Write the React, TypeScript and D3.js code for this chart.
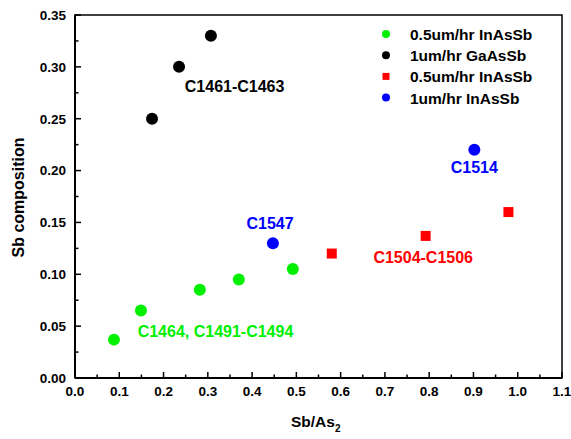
import React from "react";
import * as d3 from "d3";

const greenX = [0.088, 0.149, 0.282, 0.37, 0.492];
const greenY = [0.037, 0.065, 0.085, 0.095, 0.105];
const blackX = [0.174, 0.235, 0.307];
const blackY = [0.25, 0.3, 0.33];
const redX = [0.58, 0.792, 0.979];
const redY = [0.12, 0.137, 0.16];
const blueX = [0.447, 0.902];
const blueY = [0.13, 0.22];

const legendLabels = ["0.5um/hr InAsSb", "1um/hr GaAsSb", "0.5um/hr InAsSb", "1um/hr InAsSb"];
const legendColors = ["#00f000", "#000000", "#ff0000", "#0000ff"];
const legendShapes = ["circle", "circle", "square", "circle"];

const xTicks = [0, 0.1, 0.2, 0.3, 0.4, 0.5, 0.6, 0.7, 0.8, 0.9, 1.0, 1.1];
const yTicks = [0, 0.05, 0.1, 0.15, 0.2, 0.25, 0.3, 0.35];

const annotations = [
  { text: "C1461-C1463", x: 0.248, y: 0.276, color: "#000000", anchor: "start" },
  { text: "C1514", x: 0.902, y: 0.198, color: "#0000ff", anchor: "middle" },
  { text: "C1547", x: 0.4405, y: 0.1434, color: "#0000ff", anchor: "middle" },
  { text: "C1464, C1491-C1494", x: 0.1415, y: 0.0398, color: "#00f000", anchor: "start" },
  { text: "C1504-C1506", x: 0.674, y: 0.111, color: "#ff0000", anchor: "start" },
];

export default function App() {
  const W = 571, H = 439;
  const L = 75, R = 562, T = 15, B = 378;
  const x = d3.scaleLinear().domain([0, 1.1]).range([L, R]);
  const y = d3.scaleLinear().domain([0, 0.35]).range([B, T]);
  const font = "'Liberation Sans', Arial, sans-serif";

  const xMinor = d3.range(0.05, 1.1, 0.1);
  const yMinor = d3.range(0.025, 0.35, 0.05);

  const zip = (xs: number[], ys: number[]) => xs.map((v, i) => [v, ys[i]]);

  return (
    <svg width={W} height={H} style={{ position: "absolute", left: 0, top: 0, background: "#fff" }} fontFamily={font}>
      <rect x={0} y={0} width={W} height={H} fill="#fff" />
      {/* frame */}
      <rect x={L} y={T} width={R - L} height={B - T} fill="none" stroke="#000" strokeWidth={1.5} />
      <line x1={L} x2={R} y1={B} y2={B} stroke="#000" strokeWidth={2} />
      <line x1={L} x2={L} y1={T} y2={B} stroke="#000" strokeWidth={2} />
      {/* x ticks */}
      {xTicks.map((t) => (
        <g key={"xt" + t}>
          <line x1={x(t)} x2={x(t)} y1={B} y2={B - 6} stroke="#000" strokeWidth={1.5} />
          <text x={x(t)} y={396} textAnchor="middle" fontSize={13.5} fontWeight="bold">{t.toFixed(1)}</text>
        </g>
      ))}
      {xMinor.map((t) => (
        <line key={"xm" + t} x1={x(t)} x2={x(t)} y1={B} y2={B - 3.5} stroke="#000" strokeWidth={1.5} />
      ))}
      {/* y ticks */}
      {yTicks.map((t) => (
        <g key={"yt" + t}>
          <line x1={L} x2={L + 6} y1={y(t)} y2={y(t)} stroke="#000" strokeWidth={1.5} />
          <text x={66} y={y(t) + 4.8} textAnchor="end" fontSize={13.5} fontWeight="bold">{t.toFixed(2)}</text>
        </g>
      ))}
      {yMinor.map((t) => (
        <line key={"ym" + t} x1={L} x2={L + 3.5} y1={y(t)} y2={y(t)} stroke="#000" strokeWidth={1.5} />
      ))}
      {/* axis titles */}
      <text transform={`translate(24,${(T + B) / 2 + 1}) rotate(-90)`} textAnchor="middle" fontSize={16} fontWeight="bold">Sb composition</text>
      <text x={291} y={427} fontSize={15.5} fontWeight="bold">
        Sb/As<tspan fontSize={10} dy={5}>2</tspan>
      </text>
      {/* data */}
      {zip(greenX, greenY).map(([a, b], i) => (
        <circle key={"g" + i} cx={x(a)} cy={y(b)} r={6} fill="#00f000" />
      ))}
      {zip(blackX, blackY).map(([a, b], i) => (
        <circle key={"k" + i} cx={x(a)} cy={y(b)} r={6} fill="#000" />
      ))}
      {zip(redX, redY).map(([a, b], i) => (
        <rect key={"r" + i} x={x(a) - 5} y={y(b) - 5} width={10} height={10} fill="#ff0000" />
      ))}
      {zip(blueX, blueY).map(([a, b], i) => (
        <circle key={"b" + i} cx={x(a)} cy={y(b)} r={6} fill="#0000ff" />
      ))}
      {/* annotations */}
      {annotations.map((a) => (
        <text key={a.text} x={x(a.x)} y={y(a.y)} fill={a.color} textAnchor={a.anchor as any} fontSize={16} fontWeight="bold">{a.text}</text>
      ))}
      {/* legend */}
      {legendLabels.map((lab, i) => {
        const cy = 34 + i * 21.2;
        return (
          <g key={"l" + i}>
            {legendShapes[i] === "circle" ? (
              <circle cx={386} cy={cy} r={4} fill={legendColors[i]} />
            ) : (
              <rect x={382.5} y={cy - 3.5} width={7} height={7} fill={legendColors[i]} />
            )}
            <text x={410} y={cy + 6} fontSize={15.5} fontWeight="bold">{lab}</text>
          </g>
        );
      })}
    </svg>
  );
}
